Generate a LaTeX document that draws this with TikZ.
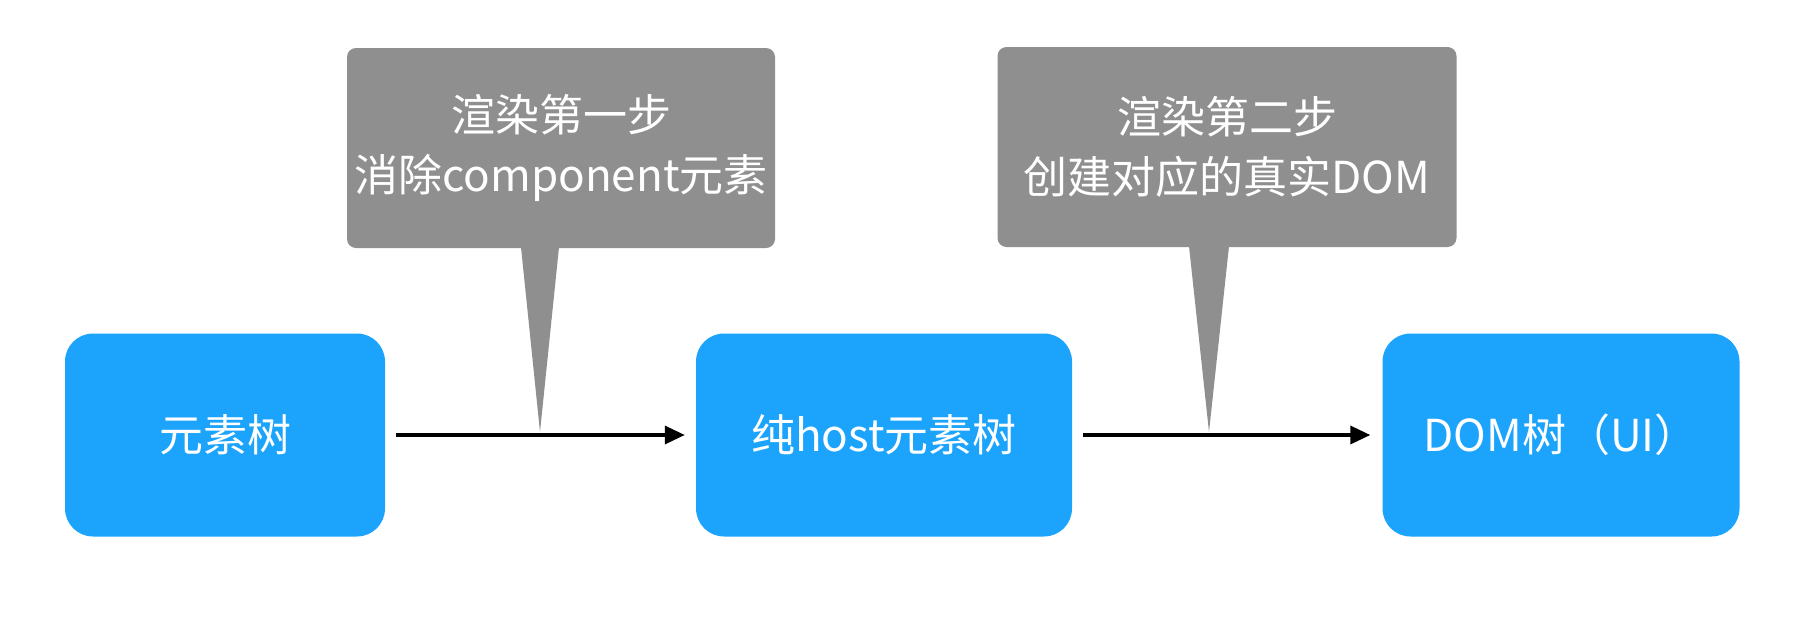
\documentclass[tikz,border=0pt]{standalone}
\usepackage{fontspec}
\setmainfont{Noto Sans CJK SC}
\usetikzlibrary{arrows.meta,calc}
\definecolor{boxblue}{HTML}{1CA4FD}
\definecolor{callgray}{HTML}{8F8F8F}
\begin{document}
\begin{tikzpicture}[x=1pt,y=-1pt,
  treebox/.style={fill=boxblue, rounded corners=28pt, minimum width=320pt, minimum height=203pt,
    text=white, font=\fontsize{44}{52}\selectfont, inner sep=0pt},
  callout/.style={fill=callgray, rounded corners=9pt, minimum height=200pt,
    text=white, font=\fontsize{44}{60}\selectfont, align=center, inner sep=0pt},
  flow/.style={line width=3.5pt, -{Triangle[length=20pt,width=18pt]}}]
\path[use as bounding box] (0,0) rectangle (1806,616);
% tree boxes
\node[treebox] (t1) at (225,435) {元素树};
\node[treebox, minimum width=376pt] (t2) at (884,435) {纯host元素树};
\node[treebox, minimum width=357pt] (t3) at (1561,435) {DOM树（UI）};
% callouts
\node[callout, minimum width=428pt] (c1) at (561,148) {渲染第一步\\消除component元素};
\node[callout, minimum width=459pt] (c2) at (1227,147) {渲染第二步\\创建对应的真实DOM};
\coordinate (p1) at (540,432);
\coordinate (p2) at (1209,432);
\fill[callgray] (p1) -- ($(c1.south -| p1)+(-19,-1)$) -- ($(c1.south -| p1)+(19,-1)$) -- cycle;
\fill[callgray] (p2) -- ($(c2.south -| p2)+(-20,-1)$) -- ($(c2.south -| p2)+(20,-1)$) -- cycle;
% arrows
\draw[flow, shorten <=11pt, shorten >=11pt] (t1) -- (t2);
\draw[flow, shorten <=11pt, shorten >=12pt] (t2) -- (t3);
\end{tikzpicture}
\end{document}
